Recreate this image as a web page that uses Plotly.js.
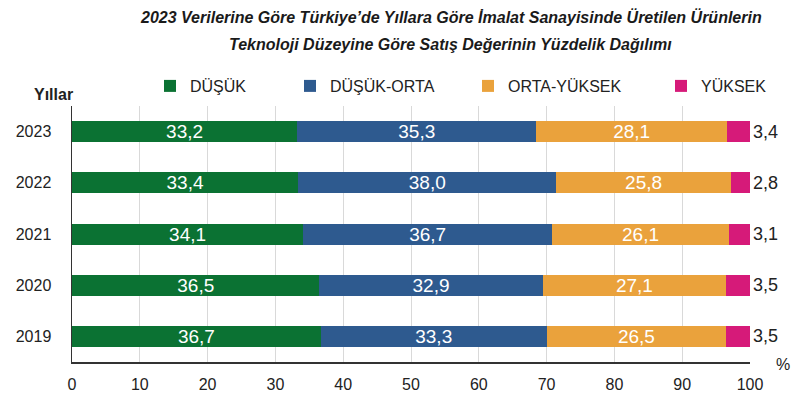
<!DOCTYPE html>
<html>
<head>
<meta charset="utf-8">
<script src="https://cdn.plot.ly/plotly-3.0.1.min.js"></script>
<style>html,body{margin:0;padding:0;background:#fff;}#chart{width:800px;height:410px;}</style>
</head>
<body>
<div id="chart"></div>
<script>
const years = ['2023', '2022', '2021', '2020', '2019'];
const dusuk = [33.2, 33.4, 34.1, 36.5, 36.7];
const dusukOrta = [35.3, 38.0, 36.7, 32.9, 33.3];
const ortaYuksek = [28.1, 25.8, 26.1, 27.1, 26.5];
const yuksek = [3.4, 2.8, 3.1, 3.5, 3.5];
const seriesNames = ['DÜŞÜK', 'DÜŞÜK-ORTA', 'ORTA-YÜKSEK', 'YÜKSEK'];
const xTicks = [0, 10, 20, 30, 40, 50, 60, 70, 80, 90, 100];

const colors = ['#0b7233', '#2e5a8f', '#eaa23c', '#d61a79'];
const series = [dusuk, dusukOrta, ortaYuksek, yuksek];
const legendIds = ['legend', 'legend2', 'legend3', 'legend4'];
const legendX = [150, 290, 468, 661];

const traces = series.map((vals, i) => ({
  type: 'bar',
  orientation: 'h',
  name: seriesNames[i],
  y: years,
  x: vals,
  marker: {color: colors[i], line: {width: 0}},
  texttemplate: '%{x:.1f}',
  textposition: i === 3 ? 'outside' : 'inside',
  insidetextanchor: 'middle',
  textangle: 0,
  cliponaxis: false,
  constraintext: 'none',
  textfont: {family: 'Liberation Sans, Arial, sans-serif', size: i === 3 ? 18 : 19, color: i === 3 ? '#222' : '#fff'},
  legend: legendIds[i],
  hoverinfo: 'none'
}));

const titleFont = {size: 16, family: 'Liberation Sans, Arial, sans-serif', color: '#1a1a1a'};
const layout = {
  width: 800, height: 410,
  margin: {l: 72, r: 50, t: 106, b: 48},
  paper_bgcolor: '#fff', plot_bgcolor: '#fff',
  barmode: 'stack',
  bargap: 0.59,
  separators: ',.',
  font: {family: 'Liberation Sans, Arial, sans-serif', color: '#222'},
  xaxis: {
    range: [0, 100], tickvals: xTicks, ticktext: xTicks.map(String),
    showgrid: true, gridcolor: '#d9d9d9', gridwidth: 1,
    showline: true, linecolor: '#333', linewidth: 1.5,
    zeroline: false, ticks: 'outside', ticklen: 7, tickcolor: 'rgba(0,0,0,0)',
    tickfont: {size: 16, color: '#222'}, fixedrange: true
  },
  yaxis: {
    autorange: 'reversed', type: 'category',
    showline: true, linecolor: '#333', linewidth: 1.5,
    ticks: 'outside', ticklen: 16, tickcolor: 'rgba(0,0,0,0)',
    tickfont: {size: 16, color: '#222'}, showgrid: false, fixedrange: true
  },
  annotations: [
    {text: '<b><i>2023 Verilerine Göre Türkiye’de Yıllara Göre İmalat Sanayisinde Üretilen Ürünlerin</i></b>',
     xref: 'paper', yref: 'paper', x: 0.5 + (451 - 411) / 678, y: 1, yanchor: 'middle', xanchor: 'center',
     yshift: 106 - 17, showarrow: false, font: titleFont},
    {text: '<b><i>Teknoloji Düzeyine Göre Satış Değerinin Yüzdelik Dağılımı</i></b>',
     xref: 'paper', yref: 'paper', x: 0.5 + (451 - 411) / 678, y: 1, yanchor: 'middle', xanchor: 'center',
     yshift: 106 - 44, showarrow: false, font: titleFont},
    {text: '<b>Yıllar</b>', xref: 'paper', yref: 'paper', x: 0, y: 1, xanchor: 'right', yanchor: 'middle',
     xshift: 3, yshift: 106 - 94, showarrow: false, font: {size: 16, color: '#222'}},
    {text: '%', xref: 'paper', yref: 'paper', x: 1, y: 0, xanchor: 'center', yanchor: 'middle',
     xshift: 783 - 750, yshift: -2, showarrow: false, font: {size: 16, color: '#222'}}
  ],
  showlegend: true
};
legendIds.forEach((id, i) => {
  layout[id] = {
    orientation: 'h', xref: 'container', yref: 'container',
    x: legendX[i] / 800, y: 1 - 69 / 410, xanchor: 'left', yanchor: 'top',
    font: {size: 16, color: '#222'}, bgcolor: 'rgba(0,0,0,0)', itemwidth: 30
  };
});

Plotly.newPlot('chart', traces, layout, {displayModeBar: false, staticPlot: true});
</script>
</body>
</html>
